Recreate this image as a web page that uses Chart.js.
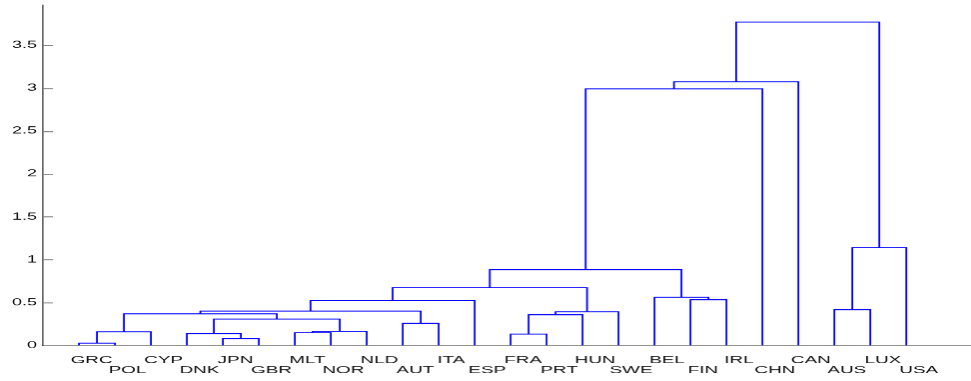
<!DOCTYPE html>
<html>
<head>
<meta charset="utf-8">
<script src="https://cdn.jsdelivr.net/npm/chart.js@4/dist/chart.umd.min.js"></script>
<style>
  html, body { margin: 0; padding: 0; background: #fff; overflow: hidden; }
  #wrap { width: 971px; height: 381px; overflow: hidden; position: relative; }
  #c { display: block; transform-origin: 0 0; }
</style>
</head>
<body>
<div id="wrap"><canvas id="c" width="540" height="381"></canvas></div>
<script>
// Leaf order along the x axis
const leafLabels = ['GRC','POL','CYP','DNK','JPN','GBR','MLT','NOR','NLD','AUT','ITA','ESP',
                    'FRA','PRT','HUN','SWE','BEL','FIN','IRL','CHN','CAN','AUS','LUX','USA'];

// Linkage: node ids 0..23 are leaves, merge k creates node 24 + k
const mergeLeft   = [0, 4, 12, 3, 6, 24, 28, 9, 27, 26, 29, 33, 34, 21, 36, 17, 16, 38, 41, 37, 42, 44, 45];
const mergeRight  = [1, 5, 13, 25, 7, 2, 8, 10, 30, 14, 32, 15, 31, 22, 11, 18, 39, 35, 40, 23, 19, 20, 43];
const mergeHeight = [0.027, 0.078, 0.132, 0.137, 0.148, 0.160, 0.163, 0.257, 0.307, 0.358, 0.368, 0.393,
                     0.400, 0.417, 0.525, 0.533, 0.560, 0.673, 0.883, 1.140, 2.991, 3.072, 3.769];

const yTickValues = [0, 0.5, 1, 1.5, 2, 2.5, 3, 3.5];
const yMax = 3.967;
const xMax = 25.8;

// The figure is laid out on a narrower canvas and stretched horizontally
const PAGE_W = 971, PAGE_H = 381, BASE_W = 540;
const STRETCH = PAGE_W / BASE_W;
const canvas = document.getElementById('c');
canvas.style.transform = 'scaleX(' + STRETCH + ')';

// Node positions: leaves at 1..n, each merge centred over its two children
const nodeX = leafLabels.map((_, i) => i + 1);
const nodeH = leafLabels.map(() => 0);
mergeHeight.forEach((h, k) => {
  const a = mergeLeft[k], b = mergeRight[k];
  nodeX.push((nodeX[a] + nodeX[b]) / 2);
  nodeH.push(h);
});

// One U-shaped link per merge
const datasets = mergeHeight.map((h, k) => {
  const a = mergeLeft[k], b = mergeRight[k];
  return {
    data: [
      { x: nodeX[a], y: nodeH[a] },
      { x: nodeX[a], y: h },
      { x: nodeX[b], y: h },
      { x: nodeX[b], y: nodeH[b] }
    ],
    showLine: true,
    borderColor: '#0000ff',
    borderWidth: 1,
    pointRadius: 0,
    pointHoverRadius: 0,
    tension: 0,
    fill: false,
    clip: false
  };
});

// Short tick marks pointing into the plot on the value axis
const innerTicks = {
  id: 'innerTicks',
  afterDatasetsDraw(chart) {
    const { ctx, chartArea, scales } = chart;
    const ys = scales.y;
    ctx.save();
    ctx.strokeStyle = '#808080';
    ctx.lineWidth = 1;
    yTickValues.forEach(v => {
      if (v === 0) return;
      const py = Math.round(ys.getPixelForValue(v)) + 0.5;
      ctx.beginPath();
      ctx.moveTo(chartArea.left, py);
      ctx.lineTo(chartArea.left + 10 / STRETCH, py);
      ctx.stroke();
    });
    ctx.restore();
  }
};

new Chart(canvas, {
  type: 'scatter',
  data: { datasets },
  plugins: [innerTicks],
  options: {
    responsive: false,
    animation: false,
    devicePixelRatio: 1.8,
    layout: { padding: { top: 5, right: 0, bottom: 0, left: 0 } },
    plugins: { legend: { display: false }, tooltip: { enabled: false } },
    events: [],
    scales: {
      x: {
        type: 'linear',
        min: 0,
        max: xMax,
        afterBuildTicks: (scale) => { scale.ticks = leafLabels.map((_, i) => ({ value: i + 1 })); },
        afterFit: (scale) => { scale.height = 36; },
        grid: { display: true, drawOnChartArea: false, drawTicks: false },
        border: { display: true, color: '#808080', width: 1 },
        ticks: {
          autoSkip: false,
          maxRotation: 0,
          minRotation: 0,
          padding: 10,
          labelOffset: 7,
          color: '#111',
          font: { family: '"Liberation Sans", Arial, sans-serif', size: 10.5, lineHeight: '10px' },
          callback: (value) => {
            const i = Math.round(value) - 1;
            const name = leafLabels[i] || '';
            return i % 2 === 0 ? name : ['', name];
          }
        }
      },
      y: {
        type: 'linear',
        min: 0,
        max: yMax,
        afterBuildTicks: (scale) => { scale.ticks = yTickValues.map(v => ({ value: v })); },
        afterFit: (scale) => {
          scale.width = 43 / STRETCH;
          scale.paddingTop = 0;
          scale.paddingBottom = 0;
        },
        grid: { display: true, drawOnChartArea: false, drawTicks: false },
        border: { display: true, color: '#000000', width: 1 / STRETCH },
        ticks: {
          padding: 3.3,
          color: '#111',
          font: { family: '"Liberation Sans", Arial, sans-serif', size: 10 },
          callback: (value) => String(value)
        }
      }
    }
  }
});
</script>
</body>
</html>
